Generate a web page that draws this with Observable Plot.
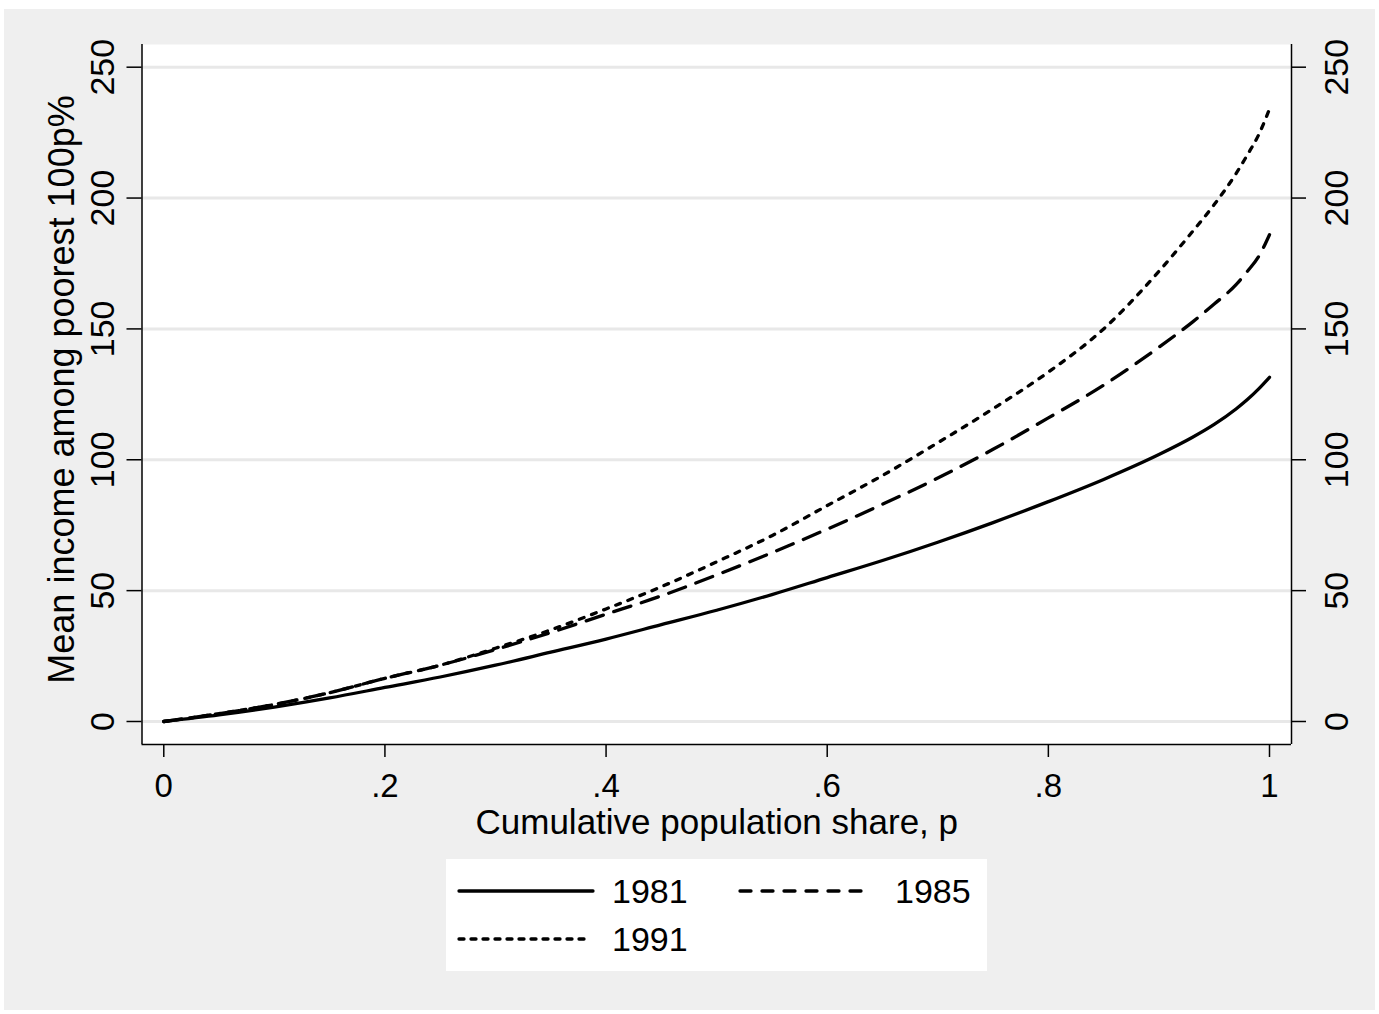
<!DOCTYPE html>
<html>
<head>
<meta charset="utf-8">
<script src="https://cdn.jsdelivr.net/npm/d3@7"></script>
<script src="https://cdn.jsdelivr.net/npm/@observablehq/plot@0.6"></script>
<style>
html, body { margin: 0; padding: 0; background: #ffffff; }
body { width: 1379px; height: 1014px; position: relative; overflow: hidden; font-family: "Liberation Sans", Arial, sans-serif; }
#bg { position: absolute; left: 4px; top: 9px; width: 1371px; height: 1001px; background: #efefef; }
#chart { position: absolute; left: 0; top: 0; }
#legend { position: absolute; left: 446px; top: 859px; width: 541px; height: 112px; background: #ffffff; }
#legend svg { position: absolute; left: 0; top: 0; }
#legend span { position: absolute; font-size: 34px; line-height: 34px; color: #000; transform: translateY(-50%); white-space: nowrap; }
</style>
</head>
<body>
<div id="bg"></div>
<div id="chart"></div>
<div id="legend"></div>
<script>
// ---- data ----
const p = [0, 0.05, 0.1, 0.15, 0.2, 0.25, 0.3, 0.35, 0.4, 0.45, 0.5, 0.55, 0.6, 0.65, 0.7, 0.75, 0.8, 0.85, 0.9, 0.93, 0.95, 0.97, 0.98, 0.99, 1.0];
const y1981 = [0, 2.5, 5.5, 9, 13, 17, 21.5, 26.5, 31.5, 37, 42.5, 48.5, 55, 61.5, 68.5, 76, 84, 92.5, 102, 108.5, 113.5, 119.5, 123, 127, 131.5];
const y1985 = [0, 3, 6.5, 11, 16.5, 21.5, 27.5, 34, 41, 48, 56, 64.5, 73.5, 83, 93, 104, 116, 128.5, 143, 152.5, 159.5, 167, 172, 177.5, 186];
const y1991 = [0, 3, 6.5, 11, 16.5, 21.5, 28, 35, 43, 51.5, 61, 71, 82.5, 94, 106.5, 119.5, 133.5, 150, 172, 187, 197.5, 209.5, 216.5, 224, 234];
const seriesNames = ["1981", "1985", "1991"];
const seriesDash = [null, "18,11", "5,8"];
const legendDash = [null, "11,11", "5,7"];
const xTicks = [0, 0.2, 0.4, 0.6, 0.8, 1];
const xTickLabels = ["0", ".2", ".4", ".6", ".8", "1"];
const yTicks = [0, 50, 100, 150, 200, 250];
const yTickLabels = ["0", "50", "100", "150", "200", "250"];
const xTitle = "Cumulative population share, p";
const yTitle = "Mean income among poorest 100p%";
const xDomain = [-0.0197, 1.0199];
const yDomain = [-8.79, 258.67];

// ---- build table ----
const seriesValues = [y1981, y1985, y1991];
const series = seriesNames.map((name, k) => ({name, dash: seriesDash[k], ldash: legendDash[k], values: seriesValues[k]}));
const rows = [];
series.forEach(s => p.forEach((x, i) => rows.push({p: x, v: s.values[i], year: s.name})));

const font = "'Liberation Sans', Arial, Helvetica, sans-serif";
const xTickFs = 33;
const yTickFs = 34;
const xTitleFs = 35;
const yTitleFs = 36;

const chart = Plot.plot({
  width: 1379,
  height: 850,
  marginLeft: 141.5,
  marginRight: 88,
  marginTop: 44,
  marginBottom: 106,
  x: {domain: xDomain, label: null},
  y: {domain: yDomain, label: null},
  style: {fontFamily: font, background: "transparent", color: "black", overflow: "visible"},
  marks: [
    Plot.frame({fill: "white", stroke: null}),
    Plot.gridY(yTicks, {stroke: "#e8e8e8", strokeOpacity: 1, strokeWidth: 3}),
    ...series.map(s => Plot.line(rows.filter(r => r.year === s.name), {
      x: "p", y: "v", stroke: "black", strokeWidth: 3.3,
      strokeDasharray: s.dash || undefined, strokeLinecap: "round", strokeLinejoin: "round",
      curve: "monotone-x"
    })),
    Plot.ruleX([xDomain[0], xDomain[1]], {stroke: "black", strokeWidth: 1.5}),
    Plot.ruleY([yDomain[0]], {stroke: "black", strokeWidth: 1.5}),
    Plot.axisY(yTicks, {anchor: "left", label: null, tickSize: 15, tickFormat: () => "", stroke: "black", strokeWidth: 1.5}),
    Plot.axisY(yTicks, {anchor: "right", label: null, tickSize: 14, tickFormat: () => "", stroke: "black", strokeWidth: 1.5}),
    Plot.axisX(xTicks, {anchor: "bottom", label: null, tickSize: 13, tickFormat: () => "", stroke: "black", strokeWidth: 1.5}),
    // y tick labels (rotated), left and right
    Plot.text(yTicks, {y: d => d, text: (d, i) => yTickLabels[i], frameAnchor: "left", textAnchor: "middle", rotate: -90, lineAnchor: "bottom", dx: -28.5, fontSize: yTickFs, fill: "black"}),
    Plot.text(yTicks, {y: d => d, text: (d, i) => yTickLabels[i], frameAnchor: "right", textAnchor: "middle", rotate: -90, lineAnchor: "bottom", dx: 56, fontSize: yTickFs, fill: "black"}),
    // x tick labels
    Plot.text(xTicks, {x: d => d, text: (d, i) => xTickLabels[i], frameAnchor: "bottom", textAnchor: "middle", lineAnchor: "top", dy: 29, fontSize: xTickFs, fill: "black"}),
    // axis titles
    Plot.text([xTitle], {text: d => d, frameAnchor: "bottom", textAnchor: "middle", lineAnchor: "bottom", dy: 89, fontSize: xTitleFs, fill: "black"}),
    Plot.text([yTitle], {text: d => d, frameAnchor: "left", textAnchor: "middle", rotate: -90, lineAnchor: "top", dx: -94, dy: -5, fontSize: yTitleFs, fill: "black"})
  ]
});
document.getElementById("chart").appendChild(chart);

// ---- legend ----
const legend = document.getElementById("legend");
const ns = "http://www.w3.org/2000/svg";
const lsvg = document.createElementNS(ns, "svg");
lsvg.setAttribute("width", 541);
lsvg.setAttribute("height", 112);
legend.appendChild(lsvg);
const legendPos = [
  {x1: 13, x2: 147, y: 32, tx: 166},
  {x1: 294, x2: 416, y: 32, tx: 449},
  {x1: 13, x2: 141, y: 80, tx: 166}
];
series.forEach((s, k) => {
  const pos = legendPos[k];
  const ln = document.createElementNS(ns, "line");
  ln.setAttribute("x1", pos.x1); ln.setAttribute("x2", pos.x2);
  ln.setAttribute("y1", pos.y); ln.setAttribute("y2", pos.y);
  ln.setAttribute("stroke", "black");
  ln.setAttribute("stroke-width", 3.3);
  ln.setAttribute("stroke-linecap", "round");
  if (s.ldash) ln.setAttribute("stroke-dasharray", s.ldash);
  lsvg.appendChild(ln);
  const sp = document.createElement("span");
  sp.textContent = s.name;
  sp.style.left = pos.tx + "px";
  sp.style.top = pos.y + "px";
  legend.appendChild(sp);
});
</script>
</body>
</html>
